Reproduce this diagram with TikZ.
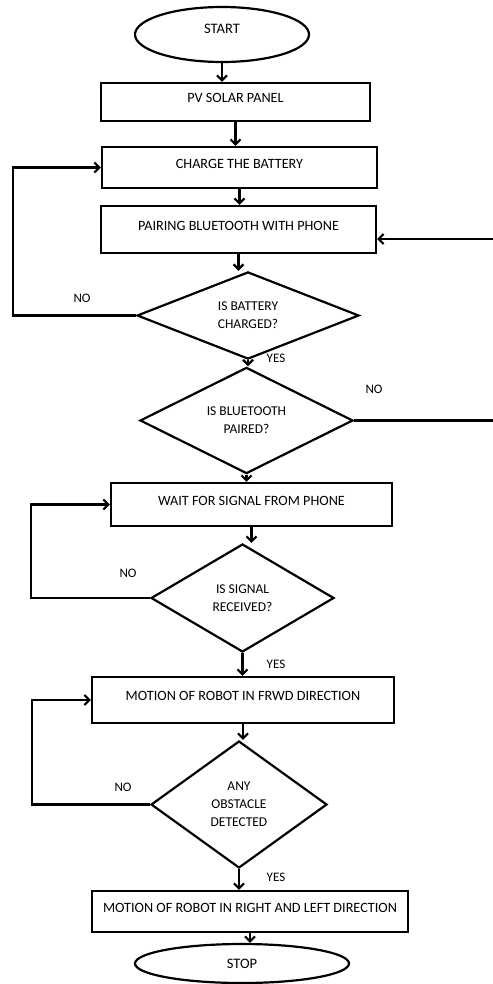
\documentclass[tikz,border=0pt]{standalone}
\usepackage{fontspec}
\setmainfont{Carlito}
\usepackage{tikz}
\usetikzlibrary{arrows.meta,%
                shapes.geometric}

\begin{document}
\begin{tikzpicture}[x=1pt,y=-1pt]
  \tikzstyle{BoxStyle}=[draw,line width=2.2pt,inner sep=0pt,text depth=8pt,font=\fontsize{14.2}{16}\selectfont]
  \tikzstyle{DecisionStyle}=[draw,diamond,line width=2.2pt,inner sep=0pt,align=center,font=\fontsize{13.5}{18}\selectfont]
  \tikzstyle{TermStyle}=[draw,ellipse,line width=2.2pt,inner sep=0pt,font=\fontsize{14.5}{16}\selectfont]
  \tikzstyle{LabelStyle}=[inner sep=0pt,font=\fontsize{13}{15}\selectfont]
  \tikzstyle{EdgeStyle}=[line width=2.2pt,-{Straight Barb[length=5pt,width=10pt]}]
  \useasboundingbox (0,0) rectangle (492,984);
  % main column
  \node[TermStyle,minimum width=174pt,minimum height=55pt,text depth=12pt] (start) at (222,34.5) {START};
  \node[BoxStyle,minimum width=269pt,minimum height=38pt] (pv) at (235.5,102) {PV SOLAR PANEL};
  \node[BoxStyle,minimum width=275pt,minimum height=41pt] (charge) at (239.5,167.5) {CHARGE THE BATTERY};
  \node[BoxStyle,minimum width=275pt,minimum height=47pt] (pairing) at (238.5,229.5) {PAIRING BLUETOOTH WITH PHONE};
  \node[DecisionStyle,minimum width=222pt,minimum height=85pt] (batt) at (248,315.5) {IS BATTERY\\CHARGED?};
  \node[DecisionStyle,minimum width=213pt,minimum height=85pt] (bt) at (246.5,420.5) {IS BLUETOOTH\\PAIRED?};
  \node[BoxStyle,minimum width=281pt,minimum height=43pt] (wait) at (251.5,504.5) {WAIT FOR SIGNAL FROM PHONE};
  \node[DecisionStyle,minimum width=183pt,minimum height=108pt] (sig) at (242.5,598) {IS SIGNAL\\RECEIVED?};
  \node[BoxStyle,minimum width=302pt,minimum height=46pt] (frwd) at (243,700) {MOTION OF ROBOT IN FRWD DIRECTION};
  \node[DecisionStyle,minimum width=176pt,minimum height=127pt] (obst) at (239,804.5) {ANY\\OBSTACLE\\DETECTED};
  \node[BoxStyle,minimum width=316pt,minimum height=41pt] (rl) at (250,911.5) {MOTION OF ROBOT IN RIGHT AND LEFT DIRECTION};
  \node[TermStyle,minimum width=214pt,minimum height=39pt] (stop) at (242,963.5) {STOP};
  % yes / no
  \node[LabelStyle] (no1) at (82,298) {NO};
  \node[LabelStyle] (yes1) at (276,358) {YES};
  \node[LabelStyle] (no2) at (374,389) {NO};
  \node[LabelStyle] (no3) at (128,573) {NO};
  \node[LabelStyle] (yes3) at (276,664) {YES};
  \node[LabelStyle] (no4) at (123,787) {NO};
  \node[LabelStyle] (yes4) at (276,877) {YES};
  % loop corners
  \coordinate (left1) at (13,0);
  \coordinate (left2) at (31,0);
  \coordinate (left3) at (32,0);
  \coordinate (right1) at (495,239);
  \foreach \a/\b in {start/pv,pv/charge,charge/pairing,pairing/batt,batt/bt,bt/wait,wait/sig,sig/frwd,frwd/obst,obst/rl,rl/stop}
    \draw[EdgeStyle] (\a.south) -- (\a.south |- \b.north);
  \draw[EdgeStyle] (batt.west) -| (left1 |- charge.west) -- (charge.west);
  \draw[EdgeStyle] (sig.west) -| (left2 |- wait.west) -- (wait.west);
  \draw[EdgeStyle] (obst.west) -| (left3 |- frwd.west) -- (frwd.west);
  \draw[EdgeStyle] (bt.east) -| (right1) -- (right1 -| pairing.east);
\end{tikzpicture}
\end{document}
